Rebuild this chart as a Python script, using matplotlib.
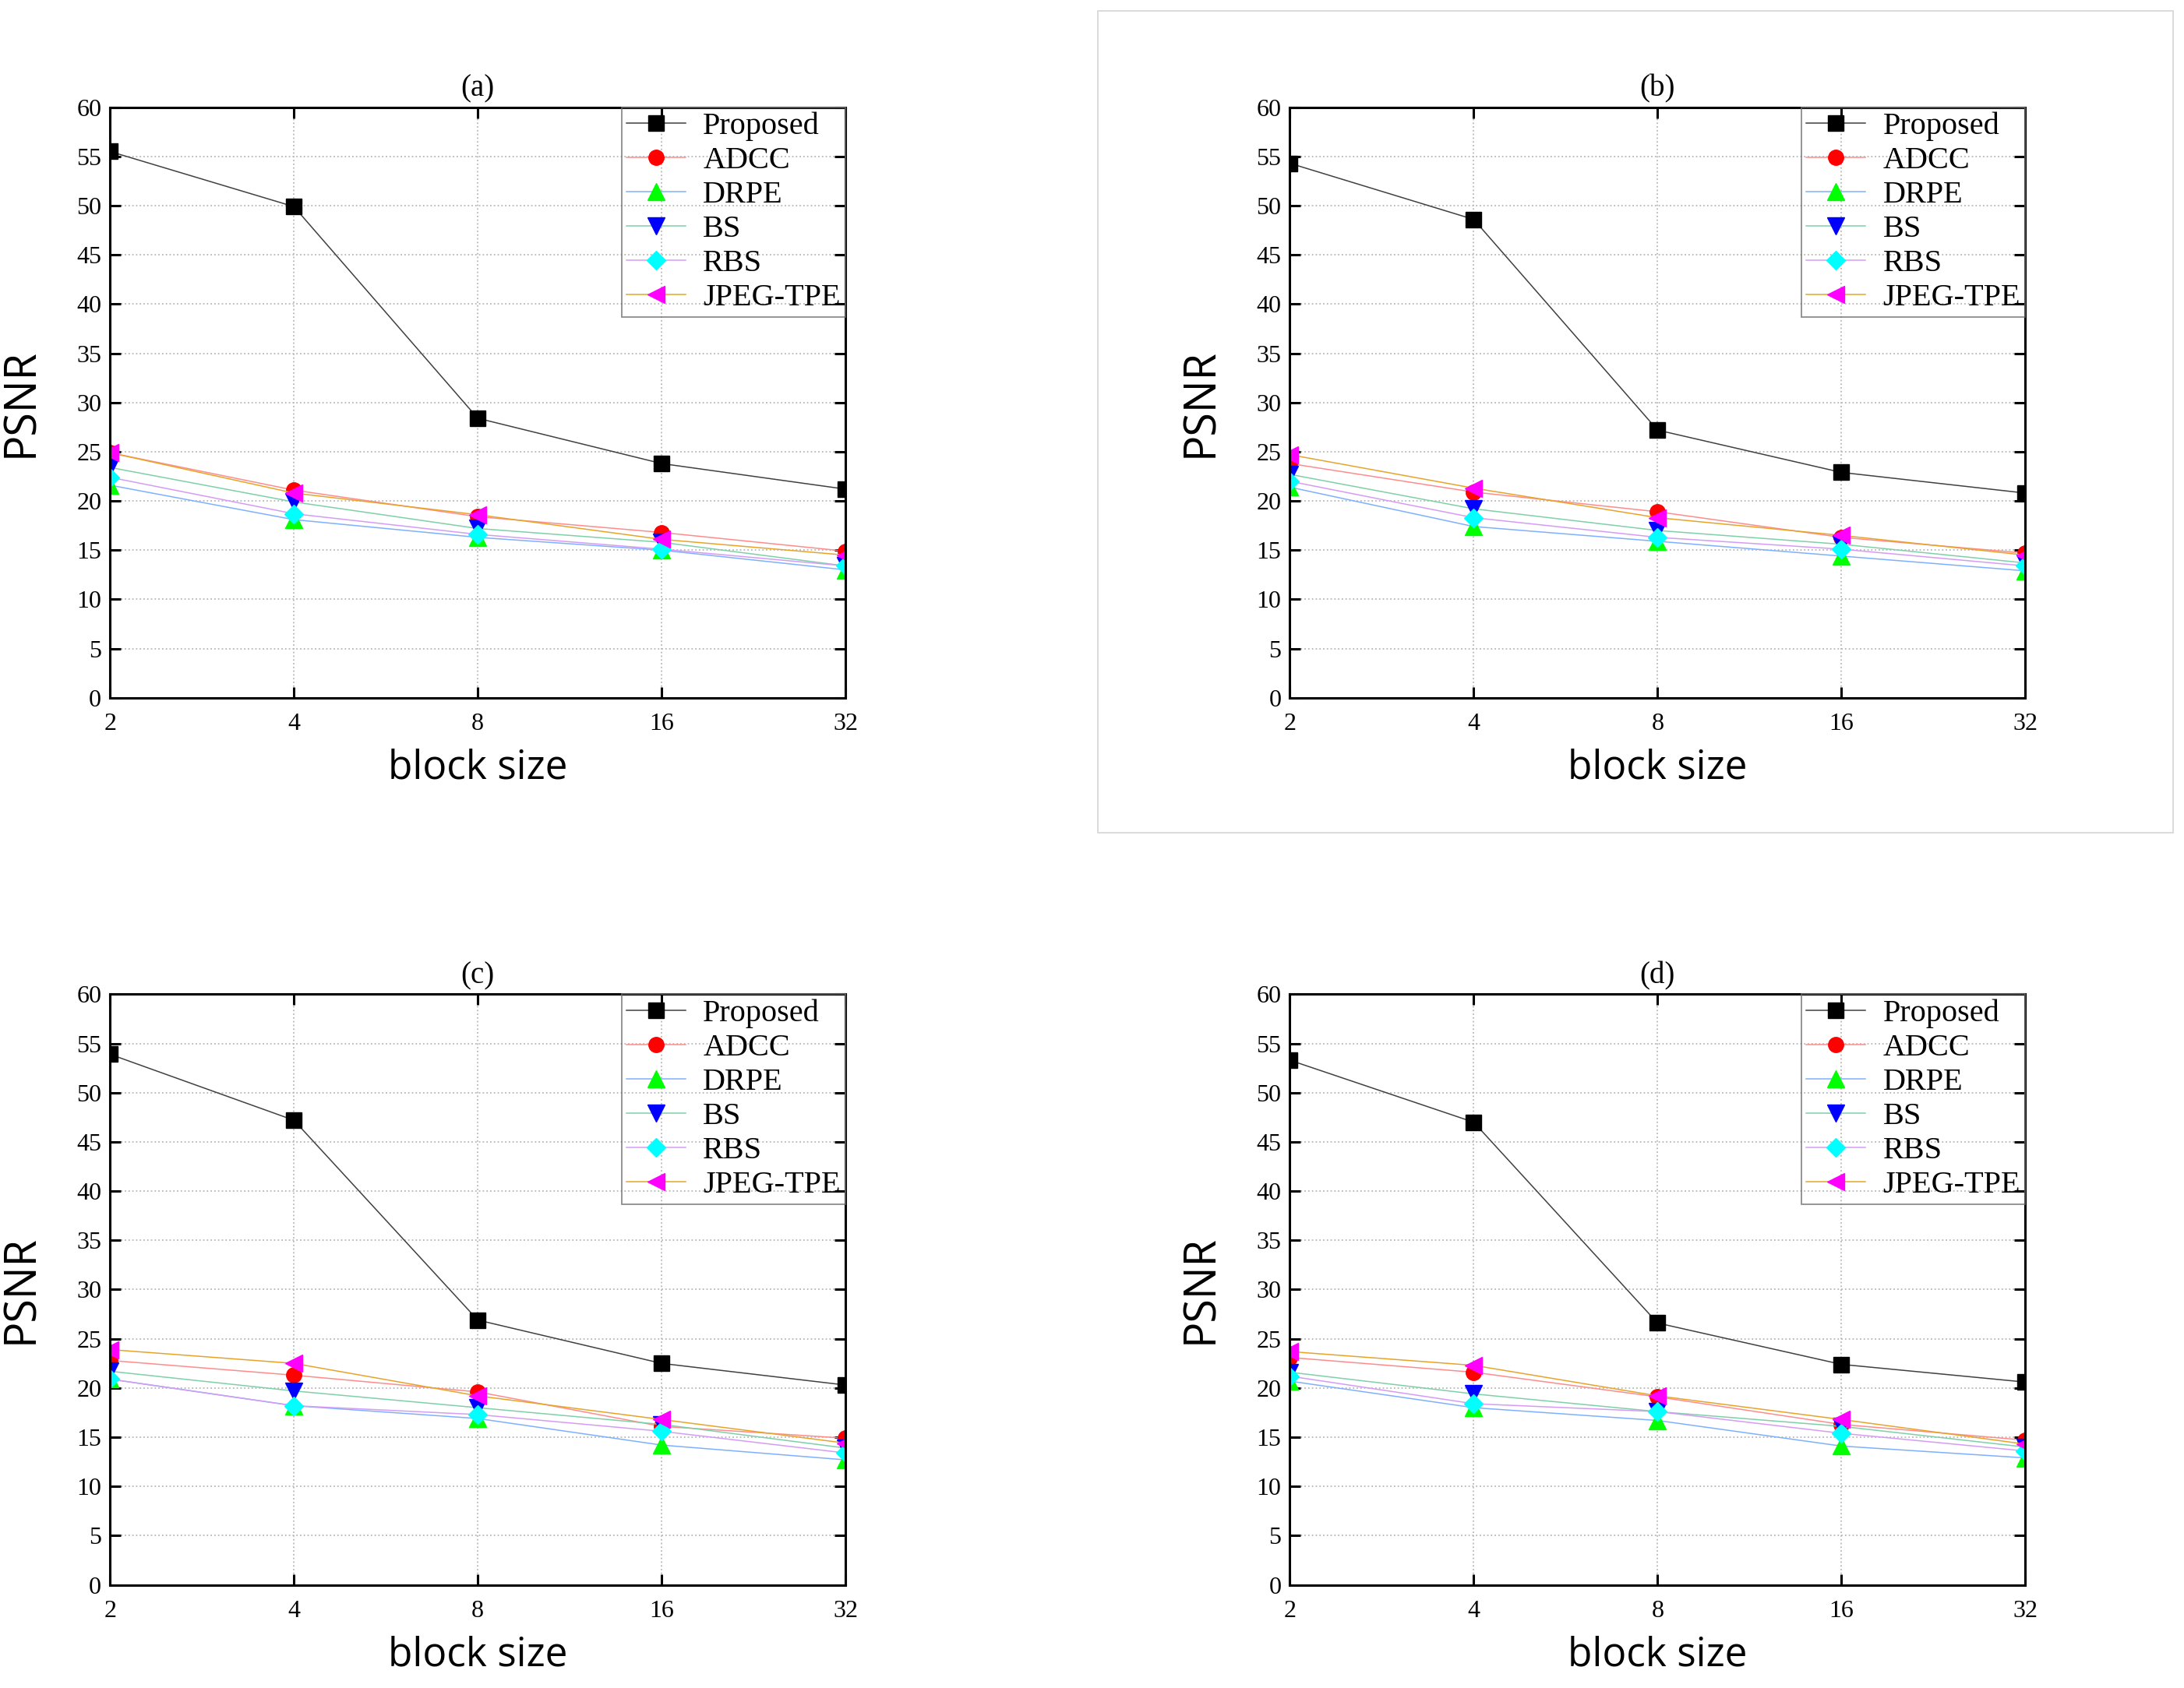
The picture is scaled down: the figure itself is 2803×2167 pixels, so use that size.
import matplotlib
matplotlib.use("Agg")
import matplotlib.pyplot as plt
from matplotlib.patches import Rectangle

# block sizes on the x axis
block_sizes = [2, 4, 8, 16, 32]
methods = ["Proposed", "ADCC", "DRPE", "BS", "RBS", "JPEG-TPE"]
panel_titles = ["(a)", "(b)", "(c)", "(d)"]

# PSNR values, one list per method and panel
proposed_a = [55.5, 49.9, 28.4, 23.8, 21.2]
adcc_a = [24.9, 21.1, 18.4, 16.8, 14.9]
drpe_a = [21.6, 18.1, 16.3, 15.0, 13.0]
bs_a = [23.4, 19.9, 17.2, 15.8, 13.4]
rbs_a = [22.4, 18.7, 16.6, 15.1, 13.4]
jpeg_a = [24.9, 20.8, 18.6, 16.1, 14.5]

proposed_b = [54.3, 48.6, 27.2, 22.9, 20.8]
adcc_b = [23.8, 20.9, 18.9, 16.3, 14.7]
drpe_b = [21.4, 17.4, 15.9, 14.4, 12.9]
bs_b = [22.7, 19.2, 17.0, 15.6, 13.7]
rbs_b = [22.0, 18.3, 16.3, 15.1, 13.4]
jpeg_b = [24.7, 21.3, 18.3, 16.5, 14.5]

proposed_c = [53.9, 47.2, 26.9, 22.5, 20.3]
adcc_c = [22.8, 21.3, 19.6, 16.1, 14.9]
drpe_c = [20.9, 18.2, 16.9, 14.2, 12.7]
bs_c = [21.7, 19.7, 18.0, 16.3, 13.9]
rbs_c = [20.9, 18.2, 17.3, 15.6, 13.4]
jpeg_c = [23.9, 22.5, 19.2, 16.8, 14.4]

proposed_d = [53.3, 47.0, 26.6, 22.4, 20.6]
adcc_d = [23.1, 21.6, 19.1, 16.3, 14.7]
drpe_d = [20.7, 18.0, 16.7, 14.1, 12.9]
bs_d = [21.6, 19.4, 17.6, 16.1, 14.0]
rbs_d = [21.2, 18.4, 17.6, 15.4, 13.6]
jpeg_d = [23.7, 22.3, 19.2, 16.8, 14.3]

panels = [
    [proposed_a, adcc_a, drpe_a, bs_a, rbs_a, jpeg_a],
    [proposed_b, adcc_b, drpe_b, bs_b, rbs_b, jpeg_b],
    [proposed_c, adcc_c, drpe_c, bs_c, rbs_c, jpeg_c],
    [proposed_d, adcc_d, drpe_d, bs_d, rbs_d, jpeg_d],
]

# styles: (marker, marker colour, line colour, marker size)
styles = [
    ("s", "black", "#404040", 14),
    ("o", "red", "#ff8c8c", 14),
    ("^", "#00ff00", "#7fb0ff", 15.5),
    ("v", "blue", "#7fd0a8", 15.5),
    ("D", "cyan", "#d59cf5", 12),
    ("<", "magenta", "#e6a52a", 15.5),
]

SERIF = ["Liberation Serif", "DejaVu Serif"]
SANS = ["Open Sans", "DejaVu Sans"]

# axes positions in figure fraction (left, bottom, width, height)
positions = [
    (0.0504, 0.5866, 0.3367, 0.3499),
    (0.5906, 0.5866, 0.3367, 0.3499),
    (0.0504, 0.0611, 0.3367, 0.3499),
    (0.5906, 0.0611, 0.3367, 0.3499),
]


def draw_panel(ax, values, title):
    for vals, name, (mk, mc, lc, ms) in zip(values, methods, styles):
        ax.plot(block_sizes, vals, color=lc, lw=1.1, marker=mk, markersize=ms,
                markerfacecolor=mc, markeredgecolor=mc, label=name)

    ax.set_xscale("log", base=2)
    ax.set_xlim(2, 32)
    ax.set_ylim(0, 60)
    ax.set_xticks(block_sizes)
    ax.set_xticklabels([str(b) for b in block_sizes])
    ax.set_yticks(range(0, 61, 5))
    ax.minorticks_off()

    ax.grid(True, color="#b8b8b8", linestyle=":", linewidth=1.3)
    ax.tick_params(axis="both", direction="in", length=10, width=2.2,
                   top=True, right=True, labelsize=23)
    ax.tick_params(axis="x", pad=14)
    ax.tick_params(axis="y", pad=8)
    for lbl in ax.get_xticklabels() + ax.get_yticklabels():
        lbl.set_family(SERIF)
    for sp in ax.spines.values():
        sp.set_linewidth(2.2)

    ax.set_title(title, fontsize=28, family=SERIF, pad=10)
    ax.set_xlabel("block size", fontsize=37, family=SANS)
    ax.set_ylabel("PSNR", fontsize=40, family=SANS)
    ax.xaxis.set_label_coords(0.5, -0.085)
    ax.yaxis.set_label_coords(-0.09, 0.5)

    leg = ax.legend(loc="upper right", bbox_to_anchor=(1.0, 1.0), borderaxespad=0,
                    prop={"family": SERIF, "size": 29}, fancybox=False,
                    frameon=True, handlelength=1.9, handletextpad=0.55,
                    labelspacing=0.17, borderpad=0.15, numpoints=1)
    leg.get_frame().set_edgecolor("#707070")
    leg.get_frame().set_facecolor("none")
    leg.get_frame().set_linewidth(1.3)


fig = plt.figure(figsize=(28.03, 21.67), dpi=100)

for pos, values, title in zip(positions, panels, panel_titles):
    ax = fig.add_axes(pos)
    draw_panel(ax, values, title)

# light frame around panel (b)
fig.add_artist(Rectangle((0.5026, 0.5066), 0.4923, 0.4868, transform=fig.transFigure,
                         fill=False, edgecolor="#d8d8d8", linewidth=1.3))

fig.savefig("out.png", dpi=100)
plt.close(fig)
